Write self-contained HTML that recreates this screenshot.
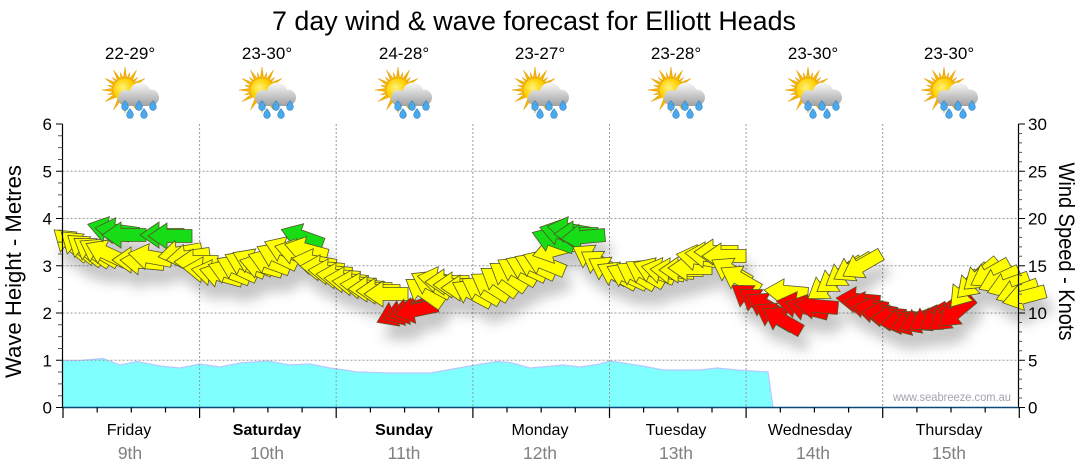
<!DOCTYPE html>
<html><head><meta charset="utf-8"><style>
html,body{margin:0;padding:0;background:#fff;width:1080px;height:475px;overflow:hidden}
svg{display:block}
text{font-family:"Liberation Sans",Arial,sans-serif}
.y{fill:#ffff00}.g{fill:#16dd16}.r{fill:#ff0000}
</style></head><body>
<svg width="1080" height="475" viewBox="0 0 1080 475" xmlns="http://www.w3.org/2000/svg">
<defs>
<path id="a" d="M-22,0 L-3,-13 L-3,-6.5 L22,-6.5 L22,6.5 L-3,6.5 L-3,13 Z" stroke="#55552a" stroke-width="0.8" stroke-linejoin="miter"/>
<filter id="sh" x="-10%" y="-30%" width="130%" height="180%">
<feDropShadow dx="6" dy="15" stdDeviation="6" flood-color="#000" flood-opacity="0.22"/>
</filter>
<radialGradient id="sunG" cx="0.4" cy="0.4" r="0.7">
<stop offset="0" stop-color="#fff27a"/><stop offset="0.6" stop-color="#ffd000"/><stop offset="1" stop-color="#f0a000"/>
</radialGradient>
<linearGradient id="cloudG" gradientUnits="userSpaceOnUse" x1="0" y1="84" x2="0" y2="106">
<stop offset="0" stop-color="#f4f4f4"/><stop offset="1" stop-color="#a0a0a0"/>
</linearGradient>
<path id="ray" d="M-2,-10 L0,-23 L2,-10Z"/>
<path id="ray2" d="M-1.6,-10 L0,-18 L1.6,-10Z"/>
<path id="drop" d="M0,-5.5 Q3.6,-1 3.3,1.2 A3.3,3.3 0 1 1 -3.3,1.2 Q-3.6,-1 0,-5.5Z"/>
<g id="wx">
 <g transform="translate(-6,90)">
  <g fill="#f5b400" stroke="#e09400" stroke-width="0.4">
   <use href="#ray"/>
   <use href="#ray" transform="rotate(30)"/>
   <use href="#ray" transform="rotate(60)"/>
   <use href="#ray" transform="rotate(90)"/>
   <use href="#ray" transform="rotate(120)"/>
   <use href="#ray" transform="rotate(150)"/>
   <use href="#ray" transform="rotate(180)"/>
   <use href="#ray" transform="rotate(210)"/>
   <use href="#ray" transform="rotate(240)"/>
   <use href="#ray" transform="rotate(270)"/>
   <use href="#ray" transform="rotate(300)"/>
   <use href="#ray" transform="rotate(330)"/>
   <use href="#ray2" transform="rotate(15)"/>
   <use href="#ray2" transform="rotate(45)"/>
   <use href="#ray2" transform="rotate(75)"/>
   <use href="#ray2" transform="rotate(105)"/>
   <use href="#ray2" transform="rotate(255)"/>
   <use href="#ray2" transform="rotate(285)"/>
   <use href="#ray2" transform="rotate(315)"/>
   <use href="#ray2" transform="rotate(345)"/>
  </g>
  <circle r="11.5" fill="url(#sunG)"/>
 </g>
 <g fill="url(#cloudG)">
  <circle cx="-5" cy="98" r="8"/>
  <circle cx="9" cy="93" r="10.5"/>
  <circle cx="20" cy="97.5" r="8"/>
  <rect x="-5" y="96" width="25" height="10"/>
 </g>
 <g fill="#49a9ea" stroke="#1f70b8" stroke-width="0.5">
  <use href="#drop" transform="translate(-6,106)"/>
  <use href="#drop" transform="translate(8,106)"/>
  <use href="#drop" transform="translate(22,106)"/>
  <use href="#drop" transform="translate(-1,114)"/>
  <use href="#drop" transform="translate(13,114)"/>
 </g>
</g>
</defs>

<!-- Title -->
<text x="272" y="30" font-size="27" fill="#000" textLength="524" lengthAdjust="spacingAndGlyphs">7 day wind &amp; wave forecast for Elliott Heads</text>

<!-- Temperatures -->
<g font-size="17" fill="#000" text-anchor="middle">
<text x="130" y="59">22-29°</text>
<text x="267" y="59">23-30°</text>
<text x="404" y="59">24-28°</text>
<text x="540" y="59">23-27°</text>
<text x="676" y="59">23-28°</text>
<text x="813" y="59">23-30°</text>
<text x="949" y="59">23-30°</text>
</g>

<!-- Icons -->
<use href="#wx" transform="translate(131,0)"/>
<use href="#wx" transform="translate(268,0)"/>
<use href="#wx" transform="translate(404,0)"/>
<use href="#wx" transform="translate(541,0)"/>
<use href="#wx" transform="translate(677,0)"/>
<use href="#wx" transform="translate(814,0)"/>
<use href="#wx" transform="translate(950,0)"/>

<!-- Wave area -->
<polygon points="62.5,360.5 80,360.5 103,358.5 120,365 137,361.5 160,366 180,368 200,364 220,367 240,363 268,361 290,365 310,364 330,368 345,370 357,372 393,373 430,373 470,366 497,361.5 510,362.5 530,368 553,366 563,365 580,367 600,364 610,361 623,363 643,366 663,370 700,370 717,368 737,370 768,372 773,407.5 62.5,407.5" fill="#80ffff" stroke="#b8c8ff" stroke-width="1.2"/>

<!-- Grid -->
<g stroke="#9a9a9a" stroke-width="1" stroke-dasharray="2,2" fill="none">
<path d="M62.5,360.25H1018.5M62.5,313H1018.5M62.5,265.75H1018.5M62.5,218.5H1018.5M62.5,171.25H1018.5"/>
<path d="M199.6,124V407M336.2,124V407M472.9,124V407M609.5,124V407M746.1,124V407M882.7,124V407"/>
</g>

<!-- Watermark -->
<text x="893" y="401" font-size="11.5" fill="#a4a4ac" textLength="118" lengthAdjust="spacingAndGlyphs">www.seabreeze.com.au</text>

<!-- Arrows -->
<g filter="url(#sh)">
<use href="#a" class="y" transform="translate(71,244) rotate(40)"/>
<use href="#a" class="y" transform="translate(78,246) rotate(40)"/>
<use href="#a" class="y" transform="translate(85,249) rotate(38)"/>
<use href="#a" class="y" transform="translate(92,251) rotate(35)"/>
<use href="#a" class="y" transform="translate(99,252) rotate(30)"/>
<use href="#a" class="y" transform="translate(106,253) rotate(25)"/>
<use href="#a" class="g" transform="translate(109,230) rotate(15)"/>
<use href="#a" class="g" transform="translate(117,231) rotate(8)"/>
<use href="#a" class="g" transform="translate(124,235) rotate(0)"/>
<use href="#a" class="y" transform="translate(134,260) rotate(0)"/>
<use href="#a" class="y" transform="translate(142,262) rotate(5)"/>
<use href="#a" class="y" transform="translate(150,257) rotate(10)"/>
<use href="#a" class="g" transform="translate(162,235) rotate(0)"/>
<use href="#a" class="g" transform="translate(170,236) rotate(0)"/>
<use href="#a" class="y" transform="translate(180,253) rotate(-10)"/>
<use href="#a" class="y" transform="translate(188,257) rotate(-8)"/>
<use href="#a" class="y" transform="translate(196,262) rotate(0)"/>
<use href="#a" class="y" transform="translate(205,270) rotate(5)"/>
<use href="#a" class="y" transform="translate(213,273) rotate(10)"/>
<use href="#a" class="y" transform="translate(221,275) rotate(15)"/>
<use href="#a" class="y" transform="translate(229,272) rotate(20)"/>
<use href="#a" class="y" transform="translate(237,268) rotate(25)"/>
<use href="#a" class="y" transform="translate(245,264) rotate(25)"/>
<use href="#a" class="y" transform="translate(253,262) rotate(25)"/>
<use href="#a" class="y" transform="translate(261,266) rotate(15)"/>
<use href="#a" class="y" transform="translate(269,262) rotate(20)"/>
<use href="#a" class="y" transform="translate(277,256) rotate(25)"/>
<use href="#a" class="y" transform="translate(285,250) rotate(22)"/>
<use href="#a" class="g" transform="translate(302,237) rotate(20)"/>
<use href="#a" class="y" transform="translate(296,252) rotate(15)"/>
<use href="#a" class="y" transform="translate(306,250) rotate(15)"/>
<use href="#a" class="y" transform="translate(314,262) rotate(10)"/>
<use href="#a" class="y" transform="translate(322,268) rotate(5)"/>
<use href="#a" class="y" transform="translate(330,272) rotate(5)"/>
<use href="#a" class="y" transform="translate(338,276) rotate(5)"/>
<use href="#a" class="y" transform="translate(346,280) rotate(5)"/>
<use href="#a" class="y" transform="translate(354,283) rotate(5)"/>
<use href="#a" class="y" transform="translate(362,286) rotate(5)"/>
<use href="#a" class="y" transform="translate(370,289) rotate(0)"/>
<use href="#a" class="y" transform="translate(378,291) rotate(0)"/>
<use href="#a" class="y" transform="translate(386,294) rotate(0)"/>
<use href="#a" class="r" transform="translate(397,313) rotate(-25)"/>
<use href="#a" class="r" transform="translate(404,312) rotate(-20)"/>
<use href="#a" class="r" transform="translate(410,311) rotate(-15)"/>
<use href="#a" class="r" transform="translate(416,310) rotate(-12)"/>
<use href="#a" class="y" transform="translate(424,292) rotate(35)"/>
<use href="#a" class="y" transform="translate(431,284) rotate(28)"/>
<use href="#a" class="y" transform="translate(439,280) rotate(10)"/>
<use href="#a" class="y" transform="translate(447,282) rotate(0)"/>
<use href="#a" class="y" transform="translate(455,285) rotate(0)"/>
<use href="#a" class="y" transform="translate(463,288) rotate(0)"/>
<use href="#a" class="y" transform="translate(472,293) rotate(28)"/>
<use href="#a" class="y" transform="translate(481,290) rotate(30)"/>
<use href="#a" class="y" transform="translate(490,286) rotate(32)"/>
<use href="#a" class="y" transform="translate(499,281) rotate(35)"/>
<use href="#a" class="y" transform="translate(508,276) rotate(35)"/>
<use href="#a" class="y" transform="translate(517,271) rotate(30)"/>
<use href="#a" class="y" transform="translate(526,268) rotate(25)"/>
<use href="#a" class="y" transform="translate(535,266) rotate(25)"/>
<use href="#a" class="y" transform="translate(544,263) rotate(22)"/>
<use href="#a" class="y" transform="translate(554,250) rotate(-15)"/>
<use href="#a" class="g" transform="translate(553,240) rotate(20)"/>
<use href="#a" class="g" transform="translate(561,233) rotate(15)"/>
<use href="#a" class="g" transform="translate(569,230) rotate(10)"/>
<use href="#a" class="g" transform="translate(576,234) rotate(0)"/>
<use href="#a" class="g" transform="translate(583,237) rotate(-5)"/>
<use href="#a" class="y" transform="translate(592,258) rotate(30)"/>
<use href="#a" class="y" transform="translate(600,264) rotate(33)"/>
<use href="#a" class="y" transform="translate(608,270) rotate(30)"/>
<use href="#a" class="y" transform="translate(617,275) rotate(28)"/>
<use href="#a" class="y" transform="translate(627,276) rotate(25)"/>
<use href="#a" class="y" transform="translate(636,275) rotate(30)"/>
<use href="#a" class="y" transform="translate(645,273) rotate(30)"/>
<use href="#a" class="y" transform="translate(654,271) rotate(22)"/>
<use href="#a" class="y" transform="translate(663,271) rotate(12)"/>
<use href="#a" class="y" transform="translate(672,271) rotate(5)"/>
<use href="#a" class="y" transform="translate(681,270) rotate(0)"/>
<use href="#a" class="y" transform="translate(690,268) rotate(0)"/>
<use href="#a" class="y" transform="translate(698,258) rotate(10)"/>
<use href="#a" class="y" transform="translate(707,255) rotate(5)"/>
<use href="#a" class="y" transform="translate(716,252) rotate(0)"/>
<use href="#a" class="y" transform="translate(724,256) rotate(0)"/>
<use href="#a" class="y" transform="translate(731,271) rotate(30)"/>
<use href="#a" class="y" transform="translate(740,279) rotate(30)"/>
<use href="#a" class="r" transform="translate(750,298) rotate(35)"/>
<use href="#a" class="r" transform="translate(758,302) rotate(35)"/>
<use href="#a" class="r" transform="translate(766,306) rotate(30)"/>
<use href="#a" class="r" transform="translate(774,316) rotate(30)"/>
<use href="#a" class="r" transform="translate(782,320) rotate(30)"/>
<use href="#a" class="y" transform="translate(786,292) rotate(5)"/>
<use href="#a" class="r" transform="translate(798,305) rotate(10)"/>
<use href="#a" class="r" transform="translate(807,308) rotate(15)"/>
<use href="#a" class="r" transform="translate(816,306) rotate(5)"/>
<use href="#a" class="y" transform="translate(826,286) rotate(-35)"/>
<use href="#a" class="y" transform="translate(835,279) rotate(-35)"/>
<use href="#a" class="y" transform="translate(844,273) rotate(-35)"/>
<use href="#a" class="y" transform="translate(853,268) rotate(-30)"/>
<use href="#a" class="y" transform="translate(862,265) rotate(-30)"/>
<use href="#a" class="r" transform="translate(858,300) rotate(5)"/>
<use href="#a" class="r" transform="translate(866,305) rotate(10)"/>
<use href="#a" class="r" transform="translate(875,310) rotate(10)"/>
<use href="#a" class="r" transform="translate(884,314) rotate(5)"/>
<use href="#a" class="r" transform="translate(893,318) rotate(0)"/>
<use href="#a" class="r" transform="translate(902,321) rotate(-10)"/>
<use href="#a" class="r" transform="translate(911,322) rotate(-20)"/>
<use href="#a" class="r" transform="translate(920,320) rotate(-25)"/>
<use href="#a" class="r" transform="translate(929,318) rotate(-30)"/>
<use href="#a" class="r" transform="translate(938,317) rotate(-35)"/>
<use href="#a" class="r" transform="translate(947,316) rotate(-40)"/>
<use href="#a" class="r" transform="translate(956,312) rotate(-40)"/>
<use href="#a" class="y" transform="translate(965,290) rotate(-50)"/>
<use href="#a" class="y" transform="translate(973,282) rotate(-45)"/>
<use href="#a" class="y" transform="translate(981,275) rotate(-40)"/>
<use href="#a" class="y" transform="translate(990,274) rotate(-30)"/>
<use href="#a" class="y" transform="translate(999,280) rotate(-25)"/>
<use href="#a" class="y" transform="translate(1008,285) rotate(-20)"/>
<use href="#a" class="y" transform="translate(1017,292) rotate(-20)"/>
<use href="#a" class="y" transform="translate(1024,297) rotate(-15)"/>
</g>

<!-- Axes -->
<g fill="none">
<path d="M62.5,124V408" stroke="#000" stroke-width="1.2"/>
<path d="M1018.5,124V408" stroke="#000" stroke-width="1.2"/>
<path d="M62,407.5H1019" stroke="#0b4a78" stroke-width="1.6"/>
<path stroke="#000" stroke-width="1" d="M56,407.5H62.5M56,360.25H62.5M56,313H62.5M56,265.75H62.5M56,218.5H62.5M56,171.25H62.5M56,124H62.5"/>
<path stroke="#555" stroke-width="1" d="M58,395.69H62.5M58,383.88H62.5M58,372.06H62.5M58,348.44H62.5M58,336.63H62.5M58,324.81H62.5M58,301.19H62.5M58,289.38H62.5M58,277.56H62.5M58,253.94H62.5M58,242.13H62.5M58,230.31H62.5M58,206.69H62.5M58,194.88H62.5M58,183.06H62.5M58,159.44H62.5M58,147.63H62.5M58,135.81H62.5"/>
<path stroke="#000" stroke-width="1" d="M1018.5,407.5H1025M1018.5,360.25H1025M1018.5,313H1025M1018.5,265.75H1025M1018.5,218.5H1025M1018.5,171.25H1025M1018.5,124H1025"/>
<path stroke="#555" stroke-width="1" d="M1018.5,398.05H1022M1018.5,388.6H1022M1018.5,379.15H1022M1018.5,369.7H1022M1018.5,350.8H1022M1018.5,341.35H1022M1018.5,331.9H1022M1018.5,322.45H1022M1018.5,303.55H1022M1018.5,294.1H1022M1018.5,284.65H1022M1018.5,275.2H1022M1018.5,256.3H1022M1018.5,246.85H1022M1018.5,237.4H1022M1018.5,227.95H1022M1018.5,209.05H1022M1018.5,199.6H1022M1018.5,190.15H1022M1018.5,180.7H1022M1018.5,161.8H1022M1018.5,152.35H1022M1018.5,142.9H1022M1018.5,133.45H1022"/>
<path stroke="#000" stroke-width="1.2" d="M63,407.5V418M199.6,407.5V418M336.2,407.5V418M472.9,407.5V418M609.5,407.5V418M746.1,407.5V418M882.7,407.5V418M1019.3,407.5V418"/>
<path stroke="#000" stroke-width="1.2" d="M97.2,407.5V412.5M131.3,407.5V412.5M165.5,407.5V412.5M233.8,407.5V412.5M267.9,407.5V412.5M302.1,407.5V412.5M370.4,407.5V412.5M404.6,407.5V412.5M438.7,407.5V412.5M507,407.5V412.5M541.2,407.5V412.5M575.3,407.5V412.5M643.6,407.5V412.5M677.8,407.5V412.5M712,407.5V412.5M780.3,407.5V412.5M814.4,407.5V412.5M848.6,407.5V412.5M916.9,407.5V412.5M951,407.5V412.5M985.2,407.5V412.5"/>
</g>

<!-- Left labels -->
<g font-size="17" fill="#000" text-anchor="end">
<text x="52" y="413.5">0</text>
<text x="52" y="366.5">1</text>
<text x="52" y="319">2</text>
<text x="52" y="272">3</text>
<text x="52" y="224.5">4</text>
<text x="52" y="177.5">5</text>
<text x="52" y="130">6</text>
</g>
<!-- Right labels -->
<g font-size="17" fill="#000" text-anchor="start">
<text x="1028" y="413.5">0</text>
<text x="1028" y="366.5">5</text>
<text x="1028" y="319">10</text>
<text x="1028" y="272">15</text>
<text x="1028" y="224.5">20</text>
<text x="1028" y="177.5">25</text>
<text x="1028" y="130">30</text>
</g>

<!-- Axis titles -->
<text transform="translate(21,271.5) rotate(-90)" font-size="22" fill="#000" text-anchor="middle" textLength="213" lengthAdjust="spacingAndGlyphs">Wave Height - Metres</text>
<text transform="translate(1059,251.5) rotate(90)" font-size="22" fill="#000" text-anchor="middle" textLength="178" lengthAdjust="spacingAndGlyphs">Wind Speed - Knots</text>

<!-- Day labels -->
<g font-size="16" fill="#000" text-anchor="middle">
<text x="129" y="435">Friday</text>
<text x="267" y="435" font-weight="bold">Saturday</text>
<text x="404" y="435" font-weight="bold">Sunday</text>
<text x="540" y="435">Monday</text>
<text x="676" y="435">Tuesday</text>
<text x="810" y="435">Wednesday</text>
<text x="949" y="435">Thursday</text>
</g>
<g font-size="17.5" fill="#808080" text-anchor="middle">
<text x="130" y="459">9th</text>
<text x="267" y="459">10th</text>
<text x="404" y="459">11th</text>
<text x="540" y="459">12th</text>
<text x="676" y="459">13th</text>
<text x="813" y="459">14th</text>
<text x="949" y="459">15th</text>
</g>
</svg>
</body></html>
